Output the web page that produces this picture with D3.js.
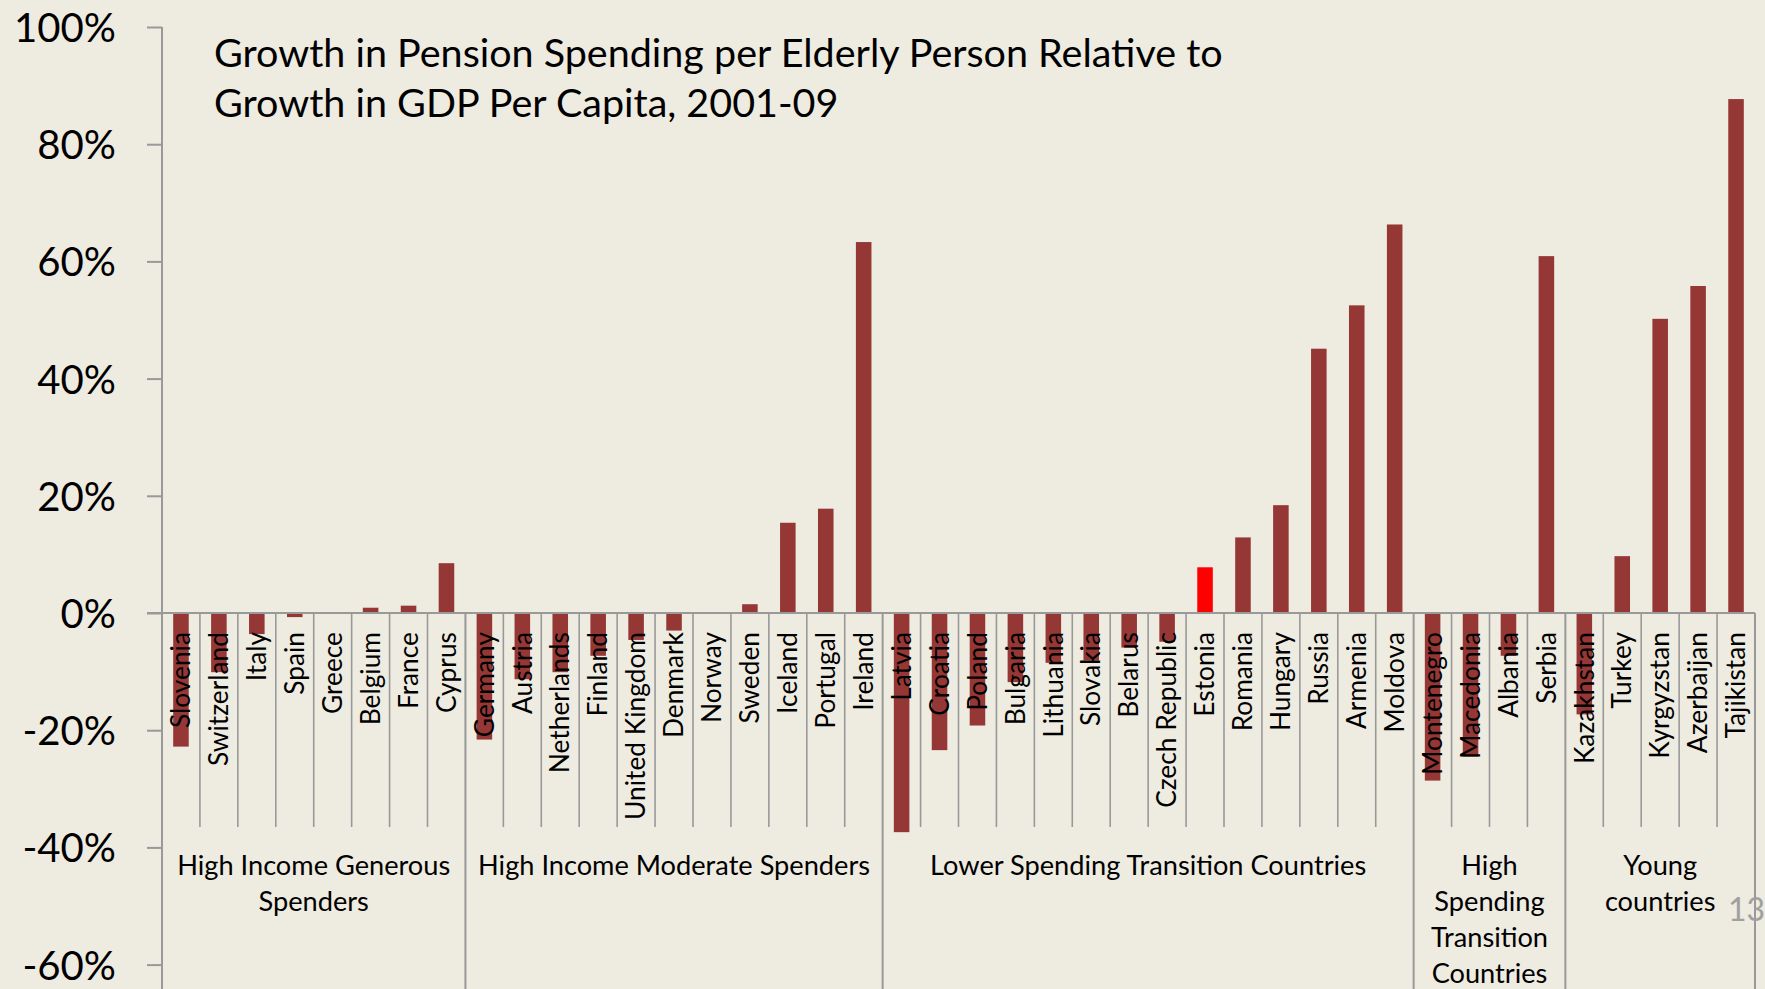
<!DOCTYPE html>
<html>
<head>
<meta charset="utf-8">
<script src="https://cdn.jsdelivr.net/npm/d3@7"></script>
<style>
  html, body { margin: 0; padding: 0; background: #EEEBE0; }
  svg { display: block; }
  text { font-family: Lato, "Open Sans", sans-serif; }
</style>
</head>
<body>
<svg id="chart" width="1765" height="989"></svg>
<script>
// ---- data ----
const categories = ["Slovenia","Switzerland","Italy","Spain","Greece","Belgium","France","Cyprus",
  "Germany","Austria","Netherlands","Finland","United Kingdom","Denmark","Norway","Sweden","Iceland","Portugal","Ireland",
  "Latvia","Croatia","Poland","Bulgaria","Lithuania","Slovakia","Belarus","Czech Republic","Estonia","Romania","Hungary","Russia","Armenia","Moldova",
  "Montenegro","Macedonia","Albania","Serbia",
  "Kazakhstan","Turkey","Kyrgyzstan","Azerbaijan","Tajikistan"];
const values = [-22.8,-10.1,-3.6,-0.7,0,0.9,1.25,8.5,
  -21.6,-11.3,-10.1,-7.3,-4.6,-3.0,0.1,1.5,15.4,17.8,63.3,
  -37.4,-23.4,-19.2,-11.8,-8.5,-8.1,-5.9,-4.9,7.8,12.9,18.4,45.1,52.5,66.3,
  -28.6,-24.5,-7.3,60.9,
  -17.3,9.7,50.2,55.8,87.7];
const highlighted = ["Estonia"];
const groupNames = [["High Income Generous","Spenders"],["High Income Moderate Spenders"],
  ["Lower Spending Transition Countries"],["High","Spending","Transition","Countries"],["Young","countries"]];
const groupSizes = [8, 11, 14, 4, 5];
const yTicks = [-60,-40,-20,0,20,40,60,80,100];
const titleLines = ["Growth in Pension Spending per Elderly Person Relative to","Growth in GDP Per Capita, 2001-09"];
const pageNumber = "13";

// ---- layout ----
const W = 1765, H = 989;
const xLeft = 162, xRight = 1755;
const barColor = "#953735", hiColor = "#FF0000", axisColor = "#999999";
const svg = d3.select("#chart");
svg.append("rect").attr("width", W).attr("height", H).attr("fill", "#EEEBE0");

const x = d3.scaleBand().domain(categories).range([xLeft, xRight]).paddingInner(0.59).paddingOuter(0.295);
const y = d3.scaleLinear().domain([-60, 100]).range([964.6, 27]);
const step = x.step();

function fit(sel, target) {
  sel.style("font-size", "100px");
  const len = sel.node().getComputedTextLength();
  sel.style("font-size", (100 * target / len) + "px");
  return 100 * target / len;
}

// bars
svg.append("g").selectAll("rect").data(categories).join("rect")
  .attr("x", d => x(d))
  .attr("width", x.bandwidth())
  .attr("y", (d, i) => y(Math.max(0, values[i])))
  .attr("height", (d, i) => Math.abs(y(values[i]) - y(0)))
  .attr("fill", d => highlighted.includes(d) ? hiColor : barColor);

// y axis
const yAxis = d3.axisLeft(y).tickValues(yTicks).tickSize(15).tickPadding(31)
  .tickFormat(d => d + "%");
const yg = svg.append("g").attr("transform", `translate(${xLeft},0)`).call(yAxis);
yg.select(".domain").remove();
yg.selectAll(".tick line").attr("stroke", axisColor).attr("stroke-width", 2);
const yLabels = yg.selectAll(".tick text").attr("fill", "#000").attr("dy", "0.36em");
// size tick labels by the "100%" label
const t100 = yg.selectAll(".tick text").filter(d => d === 100);
const tickFs = fit(t100, 102);
yLabels.style("font-size", tickFs + "px");
svg.append("line").attr("x1", xLeft).attr("x2", xLeft).attr("y1", y(100)).attr("y2", H)
  .attr("stroke", axisColor).attr("stroke-width", 2);

// zero line
svg.append("line").attr("x1", xLeft - 15).attr("x2", xRight).attr("y1", y(0)).attr("y2", y(0))
  .attr("stroke", axisColor).attr("stroke-width", 2);

// category separators
const groupBounds = [0];
groupSizes.forEach(s => groupBounds.push(groupBounds[groupBounds.length - 1] + s));
for (let i = 1; i < categories.length + 1; i++) {
  const isGroup = groupBounds.includes(i);
  const xx = xLeft + i * step;
  svg.append("line").attr("x1", xx).attr("x2", xx).attr("y1", y(0)).attr("y2", isGroup ? H : 827)
    .attr("stroke", axisColor).attr("stroke-width", isGroup ? 2 : 1.6);
}

// country labels
const labG = svg.append("g");
const labs = labG.selectAll("text").data(categories).join("text")
  .attr("transform", d => `translate(${x(d) + x.bandwidth() / 2},632) rotate(-90)`)
  .attr("text-anchor", "end").attr("dy", "0.35em").attr("fill", "#000")
  .text(d => d);
const labFs = fit(labs.filter(d => d === "United Kingdom"), 188);
labs.style("font-size", labFs + "px");

// group labels
const gG = svg.append("g");
const gRef = gG.append("text").text(groupNames[1][0]);
const grpFs = fit(gRef, 392);
gRef.remove();
groupNames.forEach((lines, gi) => {
  const cx = xLeft + (groupBounds[gi] + groupBounds[gi + 1]) / 2 * step;
  lines.forEach((ln, li) => {
    gG.append("text").attr("x", cx).attr("y", 865.6 + li * 36).attr("dy", "0.35em")
      .attr("text-anchor", "middle").style("font-size", grpFs + "px").attr("fill", "#000").text(ln);
  });
});

// title
const tG = svg.append("g");
const t1 = tG.append("text").attr("x", 214).attr("y", 66.7).attr("fill", "#000").text(titleLines[0]);
const titleFs = fit(t1, 1009);
tG.append("text").attr("x", 214).attr("y", 116.7).attr("fill", "#000")
  .style("font-size", titleFs + "px").text(titleLines[1]);

// page number
svg.append("text").attr("x", 1728).attr("y", 921).attr("fill", "#A0A0A0")
  .style("font-size", "32px").text(pageNumber);
</script>
</body>
</html>
